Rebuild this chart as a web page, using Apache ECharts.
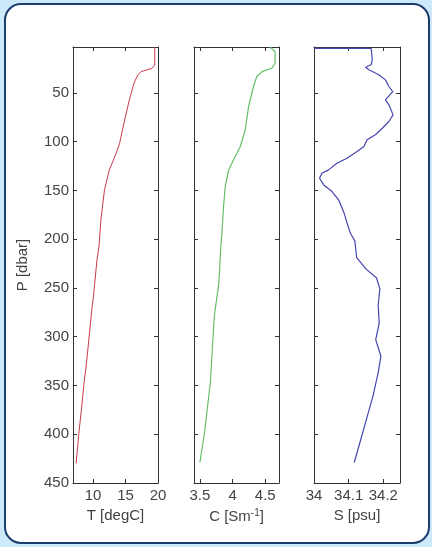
<!DOCTYPE html>
<html>
<head>
<meta charset="utf-8">
<script src="https://cdn.jsdelivr.net/npm/echarts@6/dist/echarts.min.js"></script>
<style>
html,body{margin:0;padding:0;background:#cde8f8;}
#c{width:432px;height:547px;}
</style>
</head>
<body>
<div id="c"></div>
<script>
// Pressure ticks
const pTicks = [50,100,150,200,250,300,350,400,450];
// Temperature profile
const tP = [3, 21.6, 24.8, 28.2, 31.6, 40, 57, 78, 102, 112, 129, 149.5, 180, 208, 221, 262, 269, 327, 350, 368, 400, 430];
const tV = [19.5, 19.5, 19.1, 17.4, 16.9, 16.3, 15.6, 14.85, 14.07, 13.55, 12.5, 11.75, 11.2, 10.9, 10.6, 10.0, 9.85, 8.98, 8.56, 8.3, 7.79, 7.38];
const tTicks = [10, 15, 20];
// Conductivity profile
const cP = [3, 7.6, 19.6, 24.8, 28.2, 33.3, 43.5, 64, 88, 105, 118.7, 129, 146, 166.6, 194, 208, 245, 279, 347, 399, 429];
const cV = [4.57, 4.65, 4.65, 4.60, 4.45, 4.37, 4.32, 4.245, 4.194, 4.118, 4.015, 3.94, 3.888, 3.862, 3.837, 3.82, 3.79, 3.72, 3.66, 3.57, 3.50];
const cTicks = [3.5, 4, 4.5];
// Salinity profile
const sP = [4.5, 4.5, 16, 21, 23.7, 26.4, 31.5, 36.7, 43.5, 48.7, 57.2, 62.3, 72.6, 79.4, 86.3, 93, 98.2, 105, 110.2, 117, 122.2, 129, 132.5, 137.6, 144.4, 151.2, 159.7, 173.5, 183, 194, 202, 219, 231, 239.6, 251, 268, 286, 303, 320, 337, 361, 385, 409, 429];
const sV = [34.0, 34.165, 34.168, 34.165, 34.149, 34.158, 34.187, 34.206, 34.216, 34.227, 34.206, 34.216, 34.228, 34.216, 34.197, 34.177, 34.153, 34.144, 34.124, 34.095, 34.066, 34.042, 34.023, 34.016, 34.028, 34.052, 34.071, 34.087, 34.095, 34.105, 34.118, 34.123, 34.151, 34.18, 34.19, 34.185, 34.188, 34.178, 34.193, 34.185, 34.17, 34.151, 34.132, 34.116];
const sTicks = [34, 34.1, 34.2];

const pair = (xs, ps) => xs.map((v, i) => [v, ps[i]]);

const chart = echarts.init(document.getElementById('c'), null, {renderer: 'canvas'});
const font = 'Liberation Sans, Arial, sans-serif';
const lab = {color: '#444', fontSize: 15, fontFamily: font};
const lineC = '#333';

const grids = [
  {left: 73, top: 47, width: 85, height: 436},
  {left: 194, top: 47, width: 85, height: 436},
  {left: 314, top: 47, width: 86, height: 436}
];
const xr = [[6.9, 20, tTicks, 'T [degC]'], [3.41, 4.71, cTicks, 'C [Sm{sup|-1}]'], [34, 34.248, sTicks, 'S [psu]']];

const xAxes = [], yAxes = [];
xr.forEach((r, g) => {
  const tick = {show: true, inside: true, length: 4, lineStyle: {color: lineC}, customValues: r[2]};
  xAxes.push({
    type: 'value', gridIndex: g, position: 'bottom', min: r[0], max: r[1],
    axisLine: {show: true, lineStyle: {color: lineC, width: 1}},
    axisTick: tick, splitLine: {show: false},
    axisLabel: Object.assign({customValues: r[2], margin: 5, formatter: v => String(+v.toFixed(2))}, lab),
    name: r[3], nameLocation: 'middle', nameGap: 22,
    nameTextStyle: Object.assign({rich: {sup: {fontSize: 10, color: '#444', fontFamily: font, verticalAlign: 'top', padding: [0,0,8,0]}}}, lab)
  });
  xAxes.push({
    type: 'value', gridIndex: g, position: 'top', min: r[0], max: r[1],
    axisLine: {show: true, onZero: false, lineStyle: {color: lineC, width: 1}},
    axisTick: tick, splitLine: {show: false}, axisLabel: {show: false}
  });
  const ytick = {show: true, inside: true, length: 4, lineStyle: {color: lineC}, customValues: pTicks};
  yAxes.push({
    type: 'value', gridIndex: g, position: 'left', min: 3, max: 450, inverse: true,
    axisLine: {show: true, onZero: false, lineStyle: {color: lineC, width: 1}},
    axisTick: ytick, splitLine: {show: false},
    axisLabel: Object.assign({show: g === 0, customValues: pTicks, margin: 4}, lab),
    name: g === 0 ? 'P [dbar]' : '', nameLocation: 'middle', nameGap: 43, nameTextStyle: lab
  });
  yAxes.push({
    type: 'value', gridIndex: g, position: 'right', min: 3, max: 450, inverse: true,
    axisLine: {show: true, onZero: false, lineStyle: {color: lineC, width: 1}},
    axisTick: ytick, splitLine: {show: false}, axisLabel: {show: false}
  });
});

chart.setOption({
  animation: false,
  graphic: [{
    type: 'rect', z: -10, silent: true,
    shape: {x: 5, y: 4, width: 424, height: 539, r: 16},
    style: {fill: '#ffffff', stroke: '#1a3d6e', lineWidth: 2}
  }],
  grid: grids,
  xAxis: xAxes,
  yAxis: yAxes,
  series: [
    {type: 'line', xAxisIndex: 0, yAxisIndex: 0, data: pair(tV, tP), showSymbol: false, symbol: 'none', lineStyle: {color: '#c43a4c', width: 1}},
    {type: 'line', xAxisIndex: 2, yAxisIndex: 2, data: pair(cV, cP), showSymbol: false, symbol: 'none', lineStyle: {color: '#66bd66', width: 1.2}},
    {type: 'line', xAxisIndex: 4, yAxisIndex: 4, data: pair(sV, sP), showSymbol: false, symbol: 'none', lineStyle: {color: '#4646b0', width: 1.2}}
  ]
});
</script>
</body>
</html>
